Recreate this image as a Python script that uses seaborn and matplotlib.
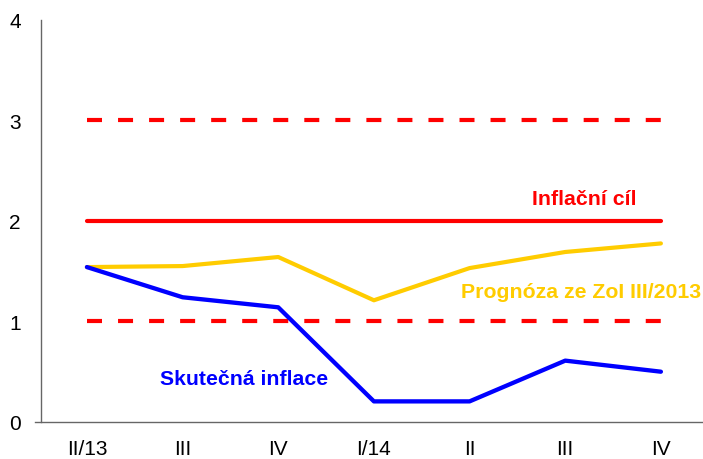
import matplotlib
matplotlib.use('Agg')
import matplotlib.pyplot as plt
import pandas as pd
import seaborn as sns

# quarters on the x axis
quarters = ['II/13', 'III', 'IV', 'I/14', 'II', 'III', 'IV']
# forecast from ZoI III/2013
forecast = [1.54, 1.55, 1.64, 1.21, 1.53, 1.69, 1.775]
# actual inflation
actual = [1.54, 1.24, 1.14, 0.205, 0.205, 0.61, 0.50]
# inflation target and tolerance band
target = [2.0] * len(quarters)
band_low = [1.0] * len(quarters)
band_high = [3.0] * len(quarters)


def make_plot():
    sns.set_style('white')
    plt.rcParams['font.family'] = ['Liberation Sans', 'DejaVu Sans']
    pos = list(range(len(quarters)))
    df = pd.DataFrame({'pos': pos, 'forecast': forecast, 'actual': actual,
                       'target': target, 'low': band_low, 'high': band_high})

    fig = plt.figure(figsize=(7.03, 4.60), dpi=100)
    # spine at x=41px, plot bottom at y=423px, top at y=20px
    ax = fig.add_axes([41 / 703, 37 / 460, 662 / 703, 402.4 / 460])

    for col in ['low', 'high']:
        sns.lineplot(data=df, x='pos', y=col, ax=ax, color='#ff0000',
                     linewidth=3, linestyle=(0, (3.6, 3.85)))
    sns.lineplot(data=df, x='pos', y='target', ax=ax, color='#ff0000', linewidth=3)
    sns.lineplot(data=df, x='pos', y='forecast', ax=ax, color='#ffcc00', linewidth=3)
    sns.lineplot(data=df, x='pos', y='actual', ax=ax, color='#0000ff', linewidth=3.1)

    ax.text(5.20, 2.217, 'Inflační cíl', color='#ff0000', fontsize=15.3,
            fontweight='bold', ha='center', va='center')
    ax.text(5.17, 1.295, 'Prognóza ze ZoI III/2013', color='#ffcc00', fontsize=15.3,
            fontweight='bold', ha='center', va='center')
    ax.text(1.64, 0.437, 'Skutečná inflace', color='#0000ff', fontsize=15.3,
            fontweight='bold', ha='center', va='center')

    ax.set_xlim(-0.48, 6.44)
    ax.set_ylim(0, 4)
    ax.set_yticks([0, 1, 2, 3, 4])
    ax.set_xticks(pos)
    ax.set_xticklabels(quarters)
    ax.set_xlabel('')
    ax.set_ylabel('')
    for lab in ax.get_xticklabels() + ax.get_yticklabels():
        lab.set_fontsize(15)
        lab.set_color('black')
    ax.tick_params(axis='y', length=4.5, width=1, color='#666666', pad=10, direction='out')
    ax.tick_params(axis='x', length=0, pad=12)
    sns.despine(ax=ax)
    for s in ['left', 'bottom']:
        ax.spines[s].set_color('#666666')
        ax.spines[s].set_linewidth(1)
    ax.spines['bottom'].set_bounds(-0.48 - 6 / 95.67, 6.44)
    fig.savefig('out.png', dpi=100)


if __name__ == '__main__':
    make_plot()
